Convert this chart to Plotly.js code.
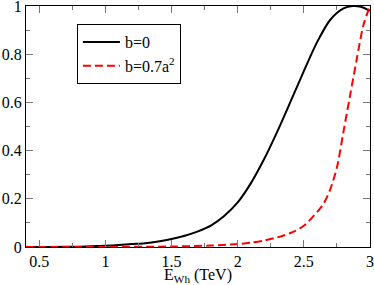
<!DOCTYPE html>
<html>
<head>
<meta charset="utf-8">
<script src="https://cdn.plot.ly/plotly-3.0.1.min.js"></script>
<style>html,body{margin:0;padding:0;background:#fff;}#chart{width:374px;height:285px;}</style>
</head>
<body>
<div id="chart"></div>
<script>
// Black solid curve: b=0
const xB0 = [0.4, 0.6, 0.8, 1.0, 1.1, 1.2, 1.3, 1.4, 1.5, 1.6, 1.7, 1.8, 1.9, 2.0, 2.1, 2.2, 2.3, 2.4, 2.5, 2.6, 2.7, 2.8, 2.87, 2.93, 3.0];
const yB0 = [0.0, 0.0003, 0.0015, 0.005, 0.008, 0.012, 0.016, 0.023, 0.033, 0.047, 0.065, 0.09, 0.13, 0.185, 0.265, 0.365, 0.48, 0.604, 0.73, 0.85, 0.943, 0.99, 1.0, 0.997, 0.98];
// Red dashed curve: b=0.7a^2
const xB7 = [0.4, 0.8, 1.0, 1.5, 1.8, 2.0, 2.1, 2.2, 2.3, 2.4, 2.5, 2.6, 2.65, 2.7, 2.75, 2.8, 2.85, 2.9, 2.95, 3.0];
const yB7 = [0.0, 0.0002, 0.0005, 0.002, 0.006, 0.012, 0.018, 0.027, 0.04, 0.058, 0.088, 0.145, 0.18, 0.24, 0.33, 0.48, 0.63, 0.78, 0.92, 1.0];
const names = ["b=0", "b=0.7a<sup>2</sup>"];

const SERIF = "Liberation Serif";
const tf = {family: SERIF, size: 16, color: "#000000"};
const axisCommon = {
  showline: true, linecolor: "#000", linewidth: 1, mirror: "ticks",
  ticks: "inside", ticklen: 7, tickwidth: 1, tickcolor: "#777",
  showgrid: false, zeroline: false,
  ticklabeloverflow: "allow",
  tickfont: tf
};
const data = [
  {x: xB0, y: yB0, name: names[0], mode: "lines", line: {color: "#000", width: 2, shape: "spline", smoothing: 0.8}},
  {x: xB7, y: yB7, name: names[1], mode: "lines", line: {color: "#ff0000", width: 2, dash: "8px,4px", shape: "spline", smoothing: 0.8}}
];
const layout = {
  width: 374, height: 285,
  font: tf,
  margin: {l: 26, r: 4, t: 6, b: 38},
  paper_bgcolor: "#fff", plot_bgcolor: "#fff",
  showlegend: true,
  legend: {x: 0.148, y: 0.925, xanchor: "left", yanchor: "top",
    bordercolor: "#000", borderwidth: 1, bgcolor: "#fff", itemwidth: 37,
    font: tf, tracegroupgap: 0},
  xaxis: Object.assign({}, axisCommon, {
    range: [0.4, 3], tickvals: [0.5, 1, 1.5, 2, 2.5, 3], ticktext: ["0.5", "1", "1.5", "2", "2.5", "3"],
    minor: {dtick: 0.25, tick0: 0, ticks: "inside", ticklen: 4, tickcolor: "#777"},
    title: {text: "E<sub>Wh</sub> (TeV)", font: tf}
  }),
  yaxis: Object.assign({}, axisCommon, {
    range: [0, 1], tickvals: [0, 0.2, 0.4, 0.6, 0.8, 1], ticktext: ["0", "0.2", "0.4", "0.6", "0.8", "1"],
    minor: {dtick: 0.1, tick0: 0, ticks: "inside", ticklen: 4, tickcolor: "#777"}
  })
};
Plotly.newPlot("chart", data, layout, {staticPlot: true, displayModeBar: false}).then(function (gd) {
  // copy computed font settings onto SVG attributes as well
  gd.querySelectorAll('text, tspan').forEach(function (el) {
    var cs = window.getComputedStyle(el);
    el.setAttribute('font-family', cs.fontFamily);
    el.setAttribute('font-size', cs.fontSize);
  });
});
</script>
</body>
</html>
